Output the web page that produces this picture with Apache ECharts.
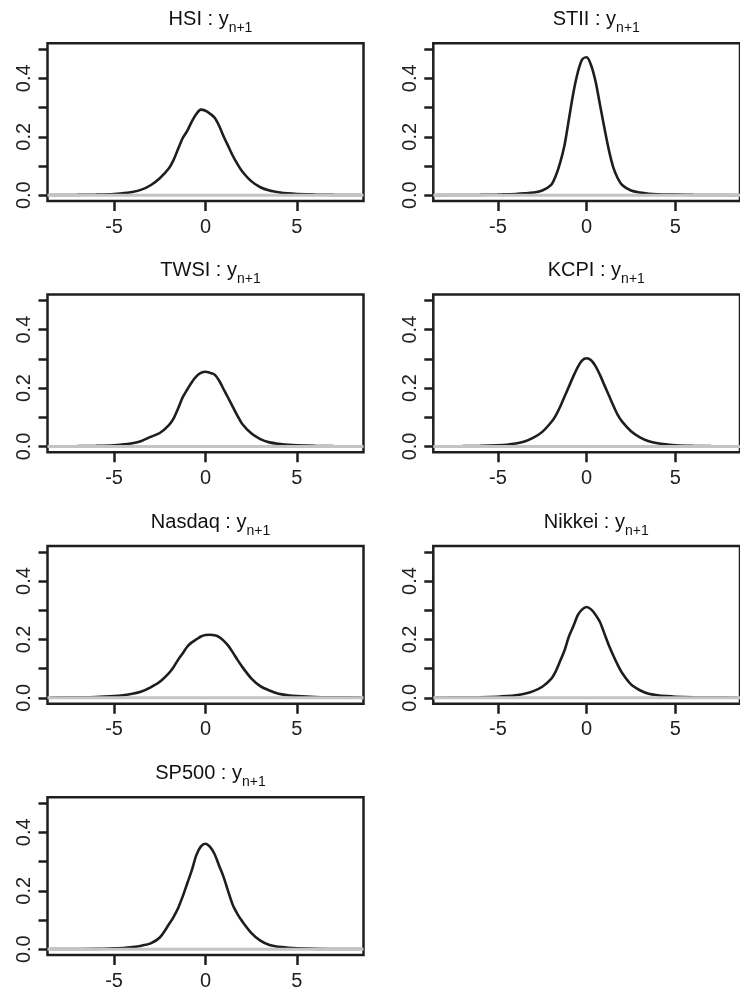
<!DOCTYPE html>
<html><head><meta charset="utf-8">
<script src="https://cdn.jsdelivr.net/npm/echarts@6/dist/echarts.min.js"></script>
<style>html,body{margin:0;padding:0;background:#fff}#c{width:740px;height:992px}</style>
</head><body><div id="c"></div>
<script>
const xs     = [-8.5,-7,-6,-5,-4.5,-4,-3.5,-3,-2.5,-2,-1.75,-1.5,-1.25,-1,-0.75,-0.5,-0.25,0,0.25,0.5,0.75,1,1.25,1.5,1.75,2,2.5,3,3.5,4,4.5,5,6,7,8.5];
const hsi    = [0.0005,0.001,0.002,0.004,0.007,0.011,0.019,0.034,0.058,0.092,0.12,0.158,0.195,0.22,0.252,0.278,0.293,0.289,0.279,0.265,0.237,0.2,0.167,0.134,0.106,0.082,0.048,0.027,0.016,0.01,0.006,0.004,0.002,0.001,0.0005];
const stii   = [0.0002,0.0005,0.001,0.002,0.003,0.004,0.006,0.009,0.016,0.035,0.065,0.11,0.17,0.26,0.35,0.42,0.465,0.472,0.445,0.39,0.31,0.23,0.155,0.095,0.058,0.035,0.016,0.009,0.005,0.003,0.002,0.002,0.001,0.0005,0.0002];
const twsi   = [0.0005,0.001,0.002,0.004,0.007,0.011,0.019,0.033,0.046,0.073,0.095,0.13,0.168,0.195,0.22,0.24,0.252,0.256,0.252,0.246,0.225,0.195,0.165,0.135,0.105,0.078,0.045,0.025,0.014,0.009,0.006,0.004,0.002,0.001,0.0005];
const kcpi   = [0.0005,0.001,0.002,0.004,0.006,0.01,0.017,0.03,0.05,0.083,0.105,0.135,0.17,0.205,0.24,0.272,0.295,0.302,0.295,0.275,0.245,0.21,0.175,0.14,0.108,0.085,0.052,0.031,0.018,0.011,0.007,0.004,0.002,0.001,0.0005];
const nasdaq = [0.001,0.002,0.003,0.006,0.009,0.014,0.022,0.036,0.055,0.085,0.105,0.13,0.152,0.175,0.19,0.2,0.21,0.215,0.216,0.214,0.208,0.195,0.178,0.155,0.13,0.107,0.067,0.04,0.025,0.014,0.009,0.006,0.003,0.002,0.001];
const nikkei = [0.0005,0.001,0.002,0.004,0.006,0.009,0.014,0.023,0.038,0.065,0.09,0.125,0.162,0.21,0.245,0.283,0.303,0.311,0.303,0.285,0.26,0.22,0.18,0.145,0.113,0.085,0.046,0.026,0.014,0.009,0.006,0.004,0.002,0.001,0.0005];
const sp500  = [0.0003,0.0006,0.001,0.003,0.004,0.007,0.012,0.02,0.04,0.085,0.11,0.14,0.18,0.225,0.27,0.322,0.352,0.361,0.35,0.325,0.285,0.245,0.196,0.15,0.12,0.096,0.056,0.029,0.014,0.008,0.005,0.003,0.001,0.0006,0.0003];
const names  = ['HSI','STII','TWSI','KCPI','Nasdaq','Nikkei','SP500'];
const xTicks = [-5,0,5];
const yTicks = [0,0.1,0.2,0.3,0.4,0.5];
const yLabels = [0,0.2,0.4];

const panels = [hsi, stii, twsi, kcpi, nasdaq, nikkei, sp500];
const colLeft = [47.5, 433.3];
const rowTop = [43.3, 294.6, 546, 797.3];
const W = 316, H = 157.7;
const XMIN = -8.64, XMAX = 8.64;
const FONT = "'Liberation Sans', Arial, Helvetica, sans-serif";
const INK = '#1e1e1e';

const grid = [], xAxis = [], yAxis = [], series = [], title = [];
panels.forEach((vals, i) => {
  const col = i % 2, row = Math.floor(i / 2);
  const left = colLeft[col], top = rowTop[row];
  grid.push({left: left, top: top, width: W, height: H, show: true,
    borderColor: INK, borderWidth: 2.5, backgroundColor: 'transparent', containLabel: false});
  xAxis.push({type: 'value', gridIndex: i, min: XMIN, max: XMAX,
    axisLine: {show: false, onZero: false},
    axisTick: {show: true, length: 10, customValues: xTicks, lineStyle: {color: INK, width: 2.5}},
    axisLabel: {show: true, customValues: xTicks, margin: 16, color: '#222', fontSize: 20, fontFamily: FONT,
      formatter: v => String(v)},
    splitLine: {show: false}});
  yAxis.push({type: 'value', gridIndex: i, min: -0.02, max: 0.52,
    axisLine: {show: false, onZero: false},
    axisTick: {show: true, length: 9, customValues: yTicks, lineStyle: {color: INK, width: 2.5}},
    axisLabel: {show: true, customValues: yLabels, rotate: 90, margin: 13, color: '#222', fontSize: 20, fontFamily: FONT,
      formatter: v => v.toFixed(1)},
    splitLine: {show: false}});
  series.push({type: 'line', xAxisIndex: i, yAxisIndex: i, data: xs.map((x, k) => [x, vals[k]]),
    showSymbol: false, smooth: 0.3, lineStyle: {color: INK, width: 2.6}, z: 3, silent: true});
  series.push({type: 'line', xAxisIndex: i, yAxisIndex: i, data: [[XMIN, 0], [XMAX, 0]],
    showSymbol: false, lineStyle: {color: '#c4c4c4', width: 3}, z: 4, silent: true});
  title.push({text: '{m|' + names[i] + ' : y}{s|n+1}', left: left + W / 2, top: top - 39, textAlign: 'center',
    textStyle: {fontFamily: FONT, fontWeight: 'normal', rich: {
      m: {fontSize: 20, fontFamily: FONT, fontWeight: 'normal', color: '#111', lineHeight: 26, verticalAlign: 'top'},
      s: {fontSize: 14, fontFamily: FONT, fontWeight: 'normal', color: '#111', lineHeight: 15, verticalAlign: 'bottom'}}}});
});

const chart = echarts.init(document.getElementById('c'), null, {renderer: 'canvas'});
chart.setOption({animation: false, backgroundColor: '#fff', title, grid, xAxis, yAxis, series});
</script></body></html>
